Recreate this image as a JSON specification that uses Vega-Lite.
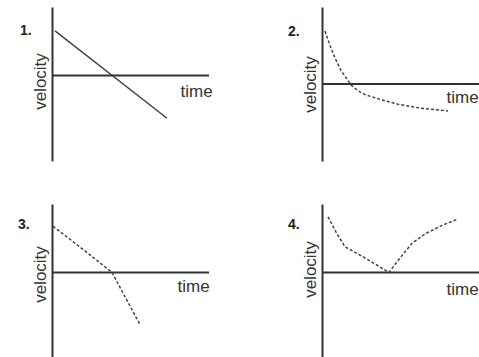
{
  "$schema": "https://vega.github.io/schema/vega-lite/v6.json",
  "background": "white",
  "padding": {"left": 18, "top": 7, "right": 0, "bottom": 0},
  "config": {
    "view": {"stroke": null},
    "font": "Liberation Sans",
    "title": {"anchor": "start", "frame": "group", "offset": 0, "baseline": "alphabetic", "fontSize": 14, "fontWeight": "bold", "color": "#222", "font": "Liberation Sans"},
    "axis": {"grid": false, "ticks": false, "labels": false, "titleFont": "Liberation Sans", "titleFontSize": 17, "titleFontWeight": "normal", "titleColor": "#333"},
    "axisY": {"domainColor": "#333", "domainWidth": 2, "titlePadding": 3},
    "axisX": {"domain": false, "titleAlign": "left", "titleBaseline": "alphabetic", "titleAngle": 0}
  },
  "datasets": {
    "p1": [
      {"time": 0.3, "velocity": 5.2},
      {"time": 11.5, "velocity": -5.0}
    ],
    "p2": [
      {"time": 0.3, "velocity": 5.5},
      {"time": 0.8, "velocity": 4.0},
      {"time": 1.3, "velocity": 2.7},
      {"time": 1.9, "velocity": 1.4},
      {"time": 2.5, "velocity": 0.5},
      {"time": 2.9, "velocity": -0.1},
      {"time": 3.6, "velocity": -0.7},
      {"time": 4.3, "velocity": -1.1},
      {"time": 5.8, "velocity": -1.6},
      {"time": 7.6, "velocity": -2.1},
      {"time": 9.8, "velocity": -2.5},
      {"time": 12.6, "velocity": -2.8}
    ],
    "p3": [
      {"time": 0.1, "velocity": 5.4},
      {"time": 3.1, "velocity": 2.7},
      {"time": 6.0, "velocity": 0.0},
      {"time": 8.8, "velocity": -6.1}
    ],
    "p4": [
      {"time": 0.6, "velocity": 6.5},
      {"time": 1.5, "velocity": 4.5},
      {"time": 2.3, "velocity": 3.0},
      {"time": 4.3, "velocity": 1.7},
      {"time": 6.7, "velocity": 0.0},
      {"time": 7.6, "velocity": 1.4},
      {"time": 9.0, "velocity": 3.4},
      {"time": 10.3, "velocity": 4.5},
      {"time": 12.0, "velocity": 5.5},
      {"time": 13.5, "velocity": 6.2}
    ]
  },
  "columns": 2,
  "bounds": "flush",
  "spacing": {"row": 43, "column": 113},
  "concat": [
    {
      "width": 157, "height": 154,
      "title": {"text": "1.", "dx": -32, "dy": 35},
      "layer": [
        {"data": {"values": [{}]}, "mark": {"type": "rule", "color": "#333", "strokeWidth": 2}, "encoding": {"y": {"datum": 0}}},
        {
          "data": {"name": "p1"},
          "mark": {"type": "line", "color": "#444", "strokeWidth": 1.5},
          "encoding": {
            "x": {"field": "time", "type": "quantitative", "scale": {"domain": [0, 15.7]}, "axis": {"orient": "top", "title": "time", "titleX": 128, "titleY": 89}},
            "y": {"field": "velocity", "type": "quantitative", "scale": {"domain": [-8.3, 7.1]}, "axis": {"title": "velocity", "titleY": 74}}
          }
        }
      ]
    },
    {
      "width": 157, "height": 154,
      "title": {"text": "2.", "dx": -34, "dy": 36},
      "layer": [
        {"data": {"values": [{}]}, "mark": {"type": "rule", "color": "#333", "strokeWidth": 2}, "encoding": {"y": {"datum": 0}}},
        {
          "data": {"name": "p2"},
          "mark": {"type": "line", "color": "#444", "strokeWidth": 1.5, "strokeDash": [3, 2]},
          "encoding": {
            "x": {"field": "time", "type": "quantitative", "scale": {"domain": [0, 15.7]}, "axis": {"orient": "top", "title": "time", "titleX": 124, "titleY": 95}},
            "y": {"field": "velocity", "type": "quantitative", "scale": {"domain": [-8.0, 7.4]}, "axis": {"title": "velocity", "titleY": 77}}
          }
        }
      ]
    },
    {
      "width": 157, "height": 154,
      "title": {"text": "3.", "dx": -34, "dy": 32},
      "layer": [
        {"data": {"values": [{}]}, "mark": {"type": "rule", "color": "#333", "strokeWidth": 2}, "encoding": {"y": {"datum": 0}}},
        {
          "data": {"name": "p3"},
          "mark": {"type": "line", "color": "#444", "strokeWidth": 1.5, "strokeDash": [3, 2]},
          "encoding": {
            "x": {"field": "time", "type": "quantitative", "scale": {"domain": [0, 15.7]}, "axis": {"orient": "top", "title": "time", "titleX": 125, "titleY": 87}},
            "y": {"field": "velocity", "type": "quantitative", "scale": {"domain": [-8.5, 6.9]}, "axis": {"title": "velocity", "titleY": 70}}
          }
        }
      ]
    },
    {
      "width": 157, "height": 154,
      "title": {"text": "4.", "dx": -34, "dy": 32},
      "layer": [
        {"data": {"values": [{}]}, "mark": {"type": "rule", "color": "#333", "strokeWidth": 2}, "encoding": {"y": {"datum": 0}}},
        {
          "data": {"name": "p4"},
          "mark": {"type": "line", "color": "#444", "strokeWidth": 1.5, "strokeDash": [3, 2]},
          "encoding": {
            "x": {"field": "time", "type": "quantitative", "scale": {"domain": [0, 15.7]}, "axis": {"orient": "top", "title": "time", "titleX": 124, "titleY": 90}},
            "y": {"field": "velocity", "type": "quantitative", "scale": {"domain": [-8.2, 7.2]}, "axis": {"title": "velocity", "titleY": 65}}
          }
        }
      ]
    }
  ]
}
